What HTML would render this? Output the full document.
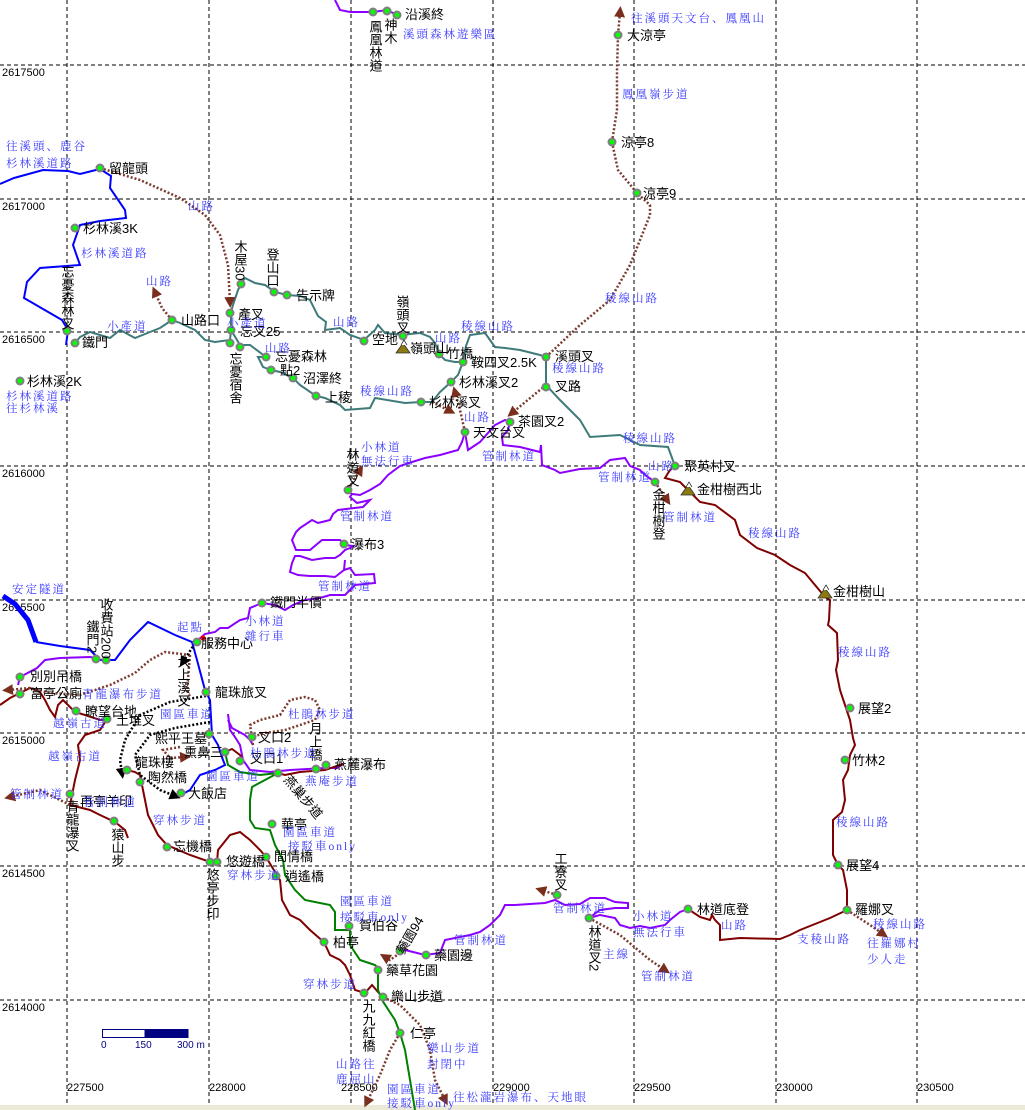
<!DOCTYPE html>
<html><head><meta charset="utf-8"><style>
html,body{margin:0;padding:0;background:#fff;}
svg{display:block;}
.k{font-family:"Liberation Sans","Noto Sans CJK TC",sans-serif;font-size:13px;fill:#000;}
.b{font-family:"Liberation Serif","Noto Serif CJK SC","Noto Sans CJK TC",serif;font-size:11.5px;fill:#3a3aff;letter-spacing:2px;}
.ax{font-family:"Liberation Sans",sans-serif;font-size:11px;fill:#000;}
.v{writing-mode:vertical-rl;}
</style></head><body>
<svg width="1025" height="1110" viewBox="0 0 1025 1110" xmlns="http://www.w3.org/2000/svg">
<defs>
<g id="n"><circle r="4.5" fill="#808080"/><circle r="2.4" fill="#00ff00"/></g>
<g id="m"><path d="M-7,4 L0,-6 L7,4 Z" fill="#8a7a10" stroke="#333" stroke-width="0.8"/><path d="M-2,-4 L1,-9 L4,-4" fill="#fff" stroke="#000" stroke-width="0.7"/></g>
<marker id="ar" markerWidth="11" markerHeight="11" refX="5" refY="5.5" orient="auto" markerUnits="userSpaceOnUse"><path d="M0,0 L11,5.5 L0,11 Z" fill="#7a2e1e"/></marker>
<marker id="ak" markerWidth="11" markerHeight="11" refX="5" refY="5.5" orient="auto" markerUnits="userSpaceOnUse"><path d="M0,0 L11,5.5 L0,11 Z" fill="#000"/></marker>
</defs>
<rect x="0" y="1105" width="1025" height="5" fill="#ece9d8"/>
<g stroke="#000" stroke-width="1" stroke-dasharray="4,3" fill="none">
<line x1="0" y1="65" x2="1025" y2="65"/><line x1="0" y1="199" x2="1025" y2="199"/><line x1="0" y1="332" x2="1025" y2="332"/><line x1="0" y1="466" x2="1025" y2="466"/><line x1="0" y1="600" x2="1025" y2="600"/><line x1="0" y1="733" x2="1025" y2="733"/><line x1="0" y1="866" x2="1025" y2="866"/><line x1="0" y1="1000" x2="1025" y2="1000"/>
<line x1="67" y1="0" x2="67" y2="1105"/><line x1="209" y1="0" x2="209" y2="1105"/><line x1="351" y1="0" x2="351" y2="1105"/><line x1="493" y1="0" x2="493" y2="1105"/><line x1="634" y1="0" x2="634" y2="1105"/><line x1="776" y1="0" x2="776" y2="1105"/><line x1="917" y1="0" x2="917" y2="1105"/>
</g>
<g class="ax">
<text x="2" y="76">2617500</text><text x="2" y="210">2617000</text><text x="2" y="343">2616500</text><text x="2" y="477">2616000</text><text x="2" y="611">2615500</text><text x="2" y="744">2615000</text><text x="2" y="877">2614500</text><text x="2" y="1011">2614000</text>
<text x="67" y="1091">227500</text><text x="209" y="1091">228000</text><text x="341" y="1091">228500</text><text x="493" y="1091">229000</text><text x="634" y="1091">229500</text><text x="776" y="1091">230000</text><text x="917" y="1091">230500</text>
</g>
<g fill="none" stroke="#0000ff" stroke-width="2">
<polyline points="0,184 14,178 43,170 68,171 80,174 100,169 111,176 110,188 125,210 126,218 100,221 80,225 73,245 80,265 40,268 27,282 24,298 62,320 68,330 66,345"/>
<polyline points="36,642 60,646 90,650 100,660 115,660 130,640 148,622 175,635 192,642 197,660 205,690 210,700 212,735 218,745 223,760 225,765 215,770 200,775 190,790 181,795"/>
<polyline points="3,596 15,604 28,620 36,642" stroke-width="5"/>
</g>
<g fill="none" stroke="#3f7a7a" stroke-width="2">
<polyline points="231,312 233,305 238,290 241,284 245,278 255,283 265,285 275,292 287,295 300,296 310,300 318,316 326,322 325,330 340,328 350,335 364,340 375,330 378,325 385,333 404,335 410,334 420,333 430,337 435,343 439,354 445,360 455,362 463,362 466,346 470,335 485,333 495,347 505,348 520,350 540,355 546,357 546,385 560,400 580,420 590,437 620,435 640,445 668,447 675,466"/>
<polyline points="463,362 458,375 451,382 440,392 432,402 421,402 405,403 375,398 370,408 345,410 340,405 325,398 316,396 300,385 293,378 280,372 271,370 263,367 258,357 266,357 250,345 240,345 231,330 231,312"/>
<polyline points="75,343 80,337 90,332 100,335 110,338 120,330 135,338 150,332 160,328 172,320 180,323 195,330 205,340 215,342 230,340 231,330"/>
</g>
<g fill="none" stroke="#8c00ff" stroke-width="2">
<polyline points="335,0 340,10 350,12 373,12 387,10 397,15"/>
<polyline points="465,432 462,442 458,450 440,455 425,458 412,462 400,466 388,475 380,484 370,490 360,495 352,494 350,497 357,503 370,500 363,507 346,509 338,510 333,514 330,520 322,522 318,523 312,520 300,528 296,532 292,540 296,550 310,550 322,540 330,540 340,540 345,545 353,546 350,548 345,550 340,555 335,558 325,558 312,560 300,556 295,556 292,563 290,572 298,575 310,576 325,576 335,577 344,570 345,560"/>
<polyline points="344,570 350,568 355,575 374,574 375,583 355,585 350,590 345,595 330,595 320,598 305,600 293,605 285,610 275,605 262,603 250,608 248,618 240,620 228,628 220,628 215,632 205,634 198,640"/>
<polyline points="465,432 468,450 480,442 495,425 505,420 510,422 508,430 502,437 503,445 520,447 540,452 541,445 542,465 555,470 560,473 580,469 600,468 610,460 625,458 630,466 640,470 645,475 655,482"/>
<polyline points="400,953 405,950 425,955 440,953 445,940 470,935 480,932 490,925 500,915 505,905 515,905 545,903 555,900 565,905 580,904 590,898 605,898 615,902 628,903 628,908 615,908 600,910 589,918 600,915 615,918 620,925 630,928 640,926 650,928 665,925 670,920 680,912 688,909"/>
<polyline points="228,714 230,730 235,737 240,745 243,760 250,770 270,772 290,770 325,768 337,768 343,764"/>
<polyline points="228,720 232,728 245,735 250,740 253,745"/>
<polyline points="96,658 90,657 60,658 45,660 37,668 20,677 18,685"/>
</g>
<g fill="none" stroke="#800000" stroke-width="2">
<polyline points="675,466 670,470 665,478 680,482 690,492 700,502 715,505 735,520 740,535 757,548 775,555 790,565 805,573 815,585 825,597 830,600 829,620 828,625 837,633 838,660 836,670 840,690 845,705 850,720 853,738 855,745 850,755 848,770 843,780 845,800 842,812 833,820 833,855 838,865 843,870 847,890 847,910 830,918 800,930 790,935 780,939 740,938 720,940 720,925 715,920 712,915 710,920 700,917 688,909"/>
<polyline points="0,705 10,698 20,693 30,688 40,692 45,700 50,710 55,717 58,705 63,700 70,707 75,712 85,715 100,720 107,719 100,730 85,735 78,745 80,760 75,780 72,795 70,805 90,810 100,815 115,822 125,830 128,838"/>
<polyline points="127,770 135,772 140,775 145,800 148,815 158,835 167,845 190,855 210,862 217,862 218,850 230,835 240,832 250,840 260,850 266,857 275,872 276,876 280,880 282,900 290,915 300,920 310,930 318,937 324,942 330,955 340,960 345,965 350,975 355,990 365,993 372,985 378,992 383,997"/>
<polyline points="225,752 232,749 240,755 243,760"/>
<polyline points="343,764 325,770 300,772 285,775 278,773"/>
</g>
<polyline fill="none" stroke="#008000" stroke-width="2" points="225,752 228,765 240,772 260,775 278,773 265,780 252,787 250,800 250,820 255,828 270,830 275,845 283,860 285,875 295,890 305,900 330,905 335,912 335,930 350,930 350,945 360,960 375,965 378,968 378,990 382,1000 395,1020 400,1033 405,1050 410,1080 415,1110"/>
<g fill="none" stroke="#7a3b2e" stroke-width="2.5" stroke-dasharray="2,2">
<polyline points="100,168 140,180 180,198 205,215 220,235 228,265 230,302" marker-end="url(#ar)"/>
<polyline points="172,320 162,308 155,292" marker-end="url(#ar)"/>
<polyline points="612,142 617,110 617,70 618,35 620,12" marker-end="url(#ar)"/>
<polyline points="612,142 618,170 637,193 650,205 650,215 630,265 610,300 580,325 546,357"/>
<polyline points="546,385 512,413" marker-end="url(#ar)"/>
<polyline points="432,402 450,411" marker-end="url(#ar)"/>
<polyline points="465,432 460,410 455,392" marker-end="url(#ar)"/>
<polyline points="348,490 360,470" marker-end="url(#ar)"/>
<polyline points="655,482 667,500" marker-end="url(#ar)"/>
<polyline points="190,655 165,652 150,660 135,673 110,685 80,695 50,693 30,688 8,690" marker-end="url(#ar)"/>
<polyline points="190,655 187,690 190,697"/>
<polyline points="253,745 250,725 260,720 280,715 290,700 305,697 315,700 320,710 315,720 300,725 285,730 265,733 252,737"/>
<polyline points="180,747 163,750 170,758 185,757" marker-end="url(#ar)"/>
<polyline points="70,805 40,790 10,797" marker-end="url(#ar)"/>
<polyline points="383,997 400,1005 420,1025 430,1050 435,1080 445,1100" marker-end="url(#ar)"/>
<polyline points="400,1033 390,1050 380,1075 367,1102" marker-end="url(#ar)"/>
<polyline points="400,953 390,960 385,957" marker-end="url(#ar)"/>
<polyline points="589,918 620,935 650,960 665,970" marker-end="url(#ar)"/>
<polyline points="557,895 541,890" marker-end="url(#ar)"/>
<polyline points="847,910 870,925 883,934" marker-end="url(#ar)"/>
</g>
<g fill="none" stroke="#000" stroke-width="2.5" stroke-dasharray="2,2">
<polyline points="197,640 183,662" marker-end="url(#ak)"/>
<polyline points="206,696 170,702 140,715 125,740 120,760 122,773" marker-end="url(#ak)"/>
<polyline points="210,722 175,728 150,735 135,755 140,775 160,790 175,796" marker-end="url(#ak)"/>
</g>
<g>
<use href="#n" x="373" y="12"/><use href="#n" x="387" y="11"/><use href="#n" x="397" y="15"/>
<use href="#n" x="618" y="35"/><use href="#n" x="612" y="142"/><use href="#n" x="637" y="193"/>
<use href="#n" x="100" y="168"/><use href="#n" x="75" y="228"/><use href="#n" x="241" y="284"/><use href="#n" x="274" y="292"/><use href="#n" x="287" y="295"/>
<use href="#n" x="172" y="320"/><use href="#n" x="230" y="313"/><use href="#n" x="231" y="330"/><use href="#n" x="230" y="343"/><use href="#n" x="240" y="347"/>
<use href="#n" x="67" y="331"/><use href="#n" x="75" y="343"/><use href="#n" x="20" y="381"/>
<use href="#n" x="364" y="341"/><use href="#n" x="403" y="336"/><use href="#n" x="439" y="354"/><use href="#n" x="463" y="362"/><use href="#n" x="451" y="382"/><use href="#n" x="421" y="402"/><use href="#n" x="465" y="432"/><use href="#n" x="510" y="422"/>
<use href="#n" x="546" y="357"/><use href="#n" x="546" y="387"/>
<use href="#n" x="266" y="357"/><use href="#n" x="271" y="370"/><use href="#n" x="293" y="378"/><use href="#n" x="316" y="396"/>
<use href="#n" x="675" y="466"/><use href="#n" x="655" y="482"/><use href="#n" x="850" y="708"/><use href="#n" x="845" y="760"/><use href="#n" x="838" y="865"/><use href="#n" x="847" y="910"/><use href="#n" x="688" y="909"/>
<use href="#n" x="348" y="490"/><use href="#n" x="344" y="544"/><use href="#n" x="262" y="603"/><use href="#n" x="197" y="642"/><use href="#n" x="206" y="692"/>
<use href="#n" x="96" y="659"/><use href="#n" x="106" y="660"/><use href="#n" x="20" y="677"/><use href="#n" x="20" y="694"/><use href="#n" x="76" y="711"/><use href="#n" x="107" y="719"/>
<use href="#n" x="209" y="734"/><use href="#n" x="225" y="752"/><use href="#n" x="127" y="770"/><use href="#n" x="140" y="782"/><use href="#n" x="181" y="793"/><use href="#n" x="70" y="794"/><use href="#n" x="114" y="821"/><use href="#n" x="167" y="847"/><use href="#n" x="210" y="862"/><use href="#n" x="217" y="862"/>
<use href="#n" x="252" y="737"/><use href="#n" x="240" y="761"/><use href="#n" x="278" y="773"/><use href="#n" x="316" y="769"/><use href="#n" x="326" y="765"/>
<use href="#n" x="272" y="824"/><use href="#n" x="266" y="857"/><use href="#n" x="276" y="876"/><use href="#n" x="349" y="926"/><use href="#n" x="324" y="942"/><use href="#n" x="400" y="951"/><use href="#n" x="426" y="955"/><use href="#n" x="378" y="970"/><use href="#n" x="364" y="993"/><use href="#n" x="383" y="997"/><use href="#n" x="400" y="1033"/>
<use href="#n" x="557" y="895"/><use href="#n" x="589" y="918"/>
<circle cx="203" cy="638" r="2.5" fill="#ff0000"/>
<use href="#m" x="403" y="349"/><use href="#m" x="688" y="491"/><use href="#m" x="825" y="594"/>
</g>
<g class="k">
<text x="405" y="19">沿溪終</text><text x="627" y="40">大涼亭</text><text x="621" y="147">涼亭8</text><text x="643" y="198">涼亭9</text>
<text x="109" y="173">留龍頭</text><text x="83" y="233">杉林溪3K</text><text x="296" y="300">告示牌</text><text x="238" y="319">產叉</text><text x="240" y="336">忘叉25</text>
<text x="181" y="325">山路口</text><text x="82" y="347">鐵門</text><text x="27" y="386">杉林溪2K</text>
<text x="372" y="344">空地</text><text x="410" y="353">嶺頭山</text><text x="447" y="358">竹橋</text><text x="471" y="367">鞍四叉2.5K</text><text x="459" y="387">杉林溪叉2</text><text x="429" y="407">杉林溪叉</text><text x="473" y="437">天文台叉</text><text x="518" y="426">茶園叉2</text>
<text x="555" y="361">溪頭叉</text><text x="555" y="391">叉路</text><text x="684" y="471">聚英村叉</text><text x="697" y="494">金柑樹西北</text><text x="833" y="596">金柑樹山</text>
<text x="858" y="713">展望2</text><text x="852" y="765">竹林2</text><text x="846" y="870">展望4</text><text x="855" y="914">羅娜叉</text><text x="697" y="914">林道底登</text>
<text x="275" y="361">忘憂森林</text><text x="280" y="375">點2</text><text x="303" y="383">沼澤終</text><text x="325" y="402">上稜</text>
<text x="351" y="549">瀑布3</text><text x="270" y="607">鐵門半價</text><text x="201" y="648">服務中心</text><text x="215" y="697">龍珠旅叉</text>
<text x="30" y="681">別別吊橋</text><text x="30" y="698">富亭公廁</text><text x="85" y="716">瞭望台地</text><text x="116" y="725">土堆叉</text>
<text x="155" y="743">熙平王墓</text><text x="184" y="757">熏鼻三</text><text x="135" y="767">龍珠樓</text><text x="148" y="782">陶然橋</text><text x="188" y="798">大飯店</text><text x="80" y="806">再亭羊印</text><text x="173" y="851">忘機橋</text><text x="226" y="866">悠遊橋</text>
<text x="258" y="742">叉口2</text><text x="250" y="763">叉口1</text><text x="334" y="769">燕麓瀑布</text>
<text x="281" y="829">華亭</text><text x="274" y="861">間情橋</text><text x="285" y="881">逍遙橋</text><text x="359" y="930">賀伯谷</text><text x="333" y="947">柏亭</text><text x="434" y="960">藥園邊</text><text x="386" y="975">藥草花園</text><text x="391" y="1001">樂山步道</text><text x="410" y="1038">仁亭</text>
</g>
<g class="k v">
<text x="240" y="240">木屋30</text><text x="272" y="248">登山口</text><text x="375" y="20">鳳凰林道</text><text x="390" y="18">神木</text>
<text x="402" y="295">嶺頭叉</text><text x="67" y="265">忘憂森林叉</text><text x="235" y="352">忘憂宿舍</text>
<text x="352" y="448">林道叉</text><text x="658" y="488">金柑樹登</text><text x="560" y="852">工寮叉</text><text x="594" y="925">林道叉2</text>
<text x="92" y="620">鐵門2</text><text x="106" y="598">收費站200</text><text x="183" y="655">大上溪叉</text><text x="315" y="722">月上橋</text>
<text x="72" y="800">青龍瀑叉</text><text x="117" y="828">猿山步</text><text x="212" y="868">悠亭步印</text><text x="368" y="1000">九九紅橋</text>
</g>
<text class="k" x="0" y="0" transform="translate(283,780) rotate(50)">燕巢步道</text>
<text class="k" x="0" y="0" transform="translate(404,955) rotate(-60)">藥園94</text>
<g class="b">
<text x="403" y="38">溪頭森林遊樂區</text><text x="631" y="22">往溪頭天文台、鳳凰山</text><text x="622" y="98">鳳凰嶺步道</text>
<text x="6" y="150">往溪頭、鹿谷</text><text x="6" y="167">杉林溪道路</text><text x="188" y="210">山路</text><text x="81" y="257">杉林溪道路</text><text x="146" y="285">山路</text>
<text x="107" y="330">小產道</text><text x="227" y="327">小產道</text><text x="265" y="352">山路</text><text x="333" y="326">山路</text><text x="435" y="342">山路</text><text x="461" y="330">稜線山路</text>
<text x="360" y="395">稜線山路</text><text x="552" y="372">稜線山路</text><text x="605" y="302">稜線山路</text><text x="6" y="400">杉林溪道路</text><text x="6" y="412">往杉林溪</text>
<text x="464" y="421">山路</text><text x="361" y="451">小林道</text><text x="361" y="465">無法行車</text><text x="482" y="460">管制林道</text><text x="623" y="442">稜線山路</text><text x="648" y="470">山路</text><text x="598" y="481">管制林道</text><text x="663" y="521">管制林道</text><text x="748" y="537">稜線山路</text>
<text x="340" y="520">管制林道</text><text x="318" y="590">管制林道</text><text x="838" y="656">稜線山路</text><text x="836" y="826">稜線山路</text><text x="873" y="928">稜線山路</text><text x="867" y="947">往羅娜村</text><text x="867" y="963">少人走</text><text x="797" y="943">支稜山路</text><text x="721" y="929">山路</text>
<text x="633" y="920">小林道</text><text x="633" y="936">無法行車</text><text x="603" y="958">主線</text><text x="641" y="980">管制林道</text><text x="553" y="912">管制林道</text><text x="454" y="944">管制林道</text>
<text x="12" y="593">安定隧道</text><text x="177" y="631">起點</text><text x="245" y="625">小林道</text><text x="245" y="640">雜行車</text><text x="82" y="698">青龍瀑布步道</text><text x="53" y="727">越嶺古道</text><text x="160" y="718">園區車道</text><text x="48" y="760">越嶺古道</text>
<text x="288" y="718">杜鵑林步道</text><text x="250" y="757">杜鵑林步道</text><text x="206" y="780">園區車道</text><text x="305" y="785">燕庵步道</text><text x="10" y="798">管制林道</text><text x="83" y="806">管制林道</text><text x="153" y="824">穿林步道</text>
<text x="283" y="836">園區車道</text><text x="288" y="850">接駁車only</text><text x="227" y="879">穿林步道</text><text x="340" y="905">園區車道</text><text x="340" y="921">接駁車only</text><text x="303" y="988">穿林步道</text>
<text x="336" y="1068">山路往</text><text x="336" y="1083">鹿屈山</text><text x="427" y="1052">樂山步道</text><text x="427" y="1068">封閉中</text><text x="387" y="1093">園區車道</text><text x="387" y="1107">接駁車only</text><text x="453" y="1101">往松瀧岩瀑布、天地眼</text>
</g>
<rect x="102.5" y="1029.5" width="43" height="8" fill="#fff" stroke="#000080"/>
<rect x="145" y="1029.5" width="43" height="8" fill="#000080" stroke="#000080"/>
<g font-family="Liberation Sans,sans-serif" font-size="10" fill="#000080"><text x="101" y="1048">0</text><text x="135" y="1048">150</text><text x="177" y="1048">300 m</text></g>
</svg>
</body></html>
